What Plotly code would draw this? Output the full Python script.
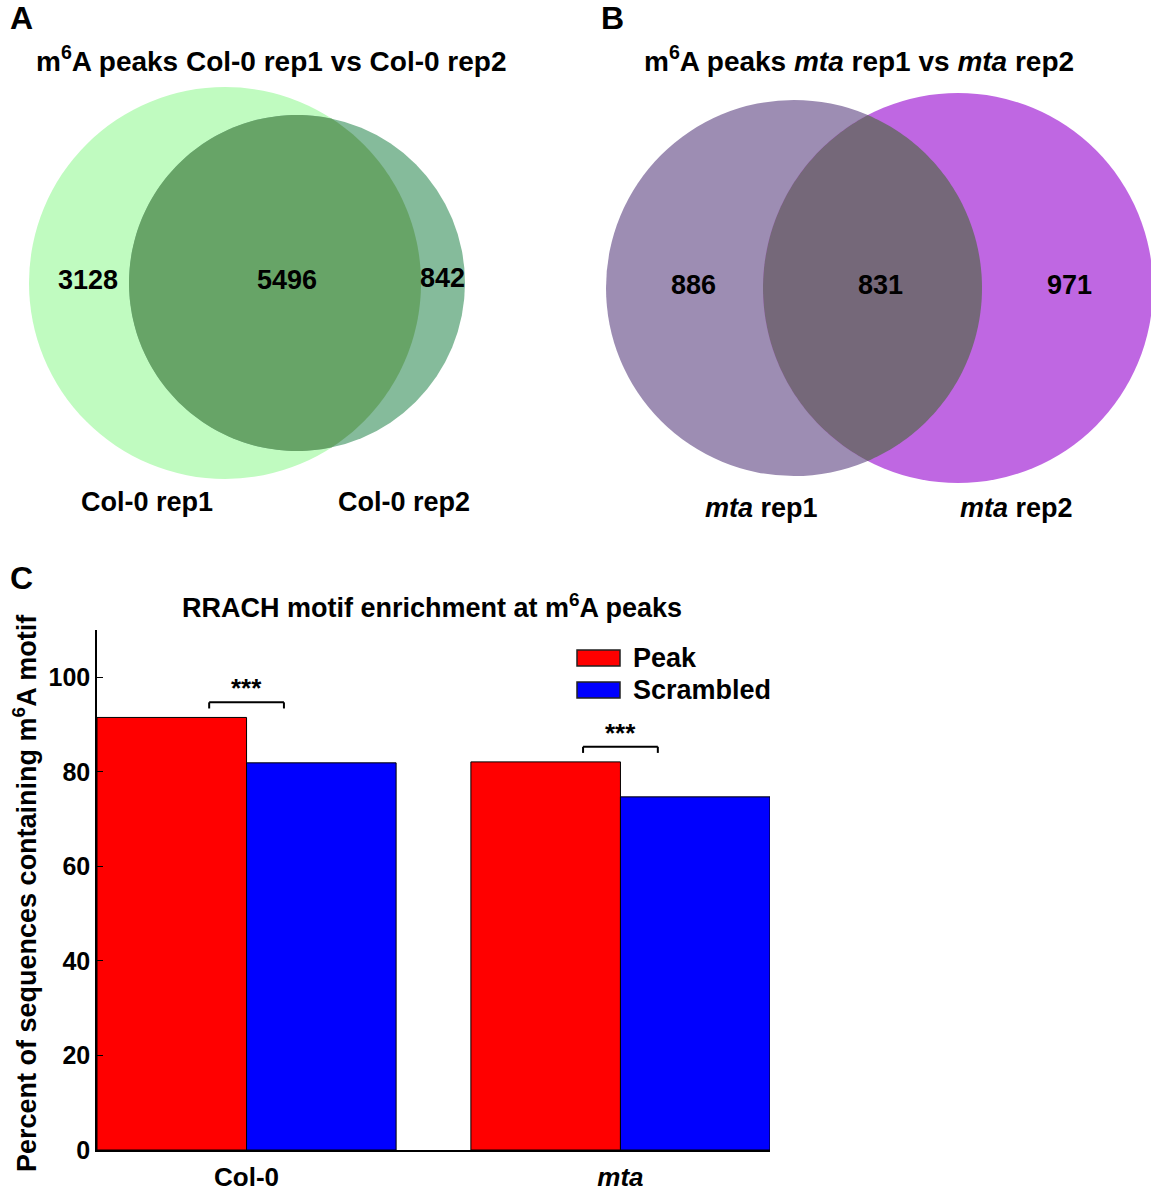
import numpy as np
import plotly.graph_objects as go

# ---------------- data ----------------
venn_a_counts = [3128, 5496, 842]          # rep1 only, shared, rep2 only
venn_a_labels = ["Col-0 rep1", "Col-0 rep2"]
venn_a_title = "m<sup>6</sup>A peaks Col-0 rep1 vs Col-0 rep2"

venn_b_counts = [886, 831, 971]
venn_b_labels = ["<i>mta</i> rep1", "<i>mta</i> rep2"]
venn_b_title = "m<sup>6</sup>A peaks <i>mta</i> rep1 vs <i>mta</i> rep2"

categories = ["Col-0", "<i>mta</i>"]
peak_values = [91.5, 82.1]
scrambled_values = [81.9, 74.7]
series_names = ["Peak", "Scrambled"]
sig_labels = ["***", "***"]
y_ticks = [0, 20, 40, 60, 80, 100]
bar_title = "RRACH motif enrichment at m<sup>6</sup>A peaks"
y_title = "Percent of sequences containing m<sup>6</sup>A motif"

# ---------------- layout helpers ----------------
W, H = 1151, 1190          # design canvas (pixel coordinates used below)
FIG_H = 1204               # rendered figure height (compensates page scaling)
FONT = "Liberation Sans, Arial, Helvetica, sans-serif"


def X(px):
    return px / W


def Y(py):
    return 1 - py / H


def circle_shape(cx, cy, r, color):
    return dict(type="circle", xref="paper", yref="paper",
                x0=X(cx - r), x1=X(cx + r), y0=Y(cy + r), y1=Y(cy - r),
                fillcolor=color, line=dict(width=0), layer="below")


def lens_shape(c1x, c2x, cy, r1, r2, color, n=120):
    d = c2x - c1x
    a = (d * d + r1 * r1 - r2 * r2) / (2 * d)
    h = np.sqrt(r1 * r1 - a * a)
    p1 = np.arctan2(h, a)
    p2 = np.arctan2(h, d - a)
    t1 = np.linspace(-p1, p1, n)
    t2 = np.linspace(np.pi - p2, np.pi + p2, n)
    xs = np.concatenate([c1x + r1 * np.cos(t1), c2x + r2 * np.cos(t2)])
    ys = np.concatenate([cy + r1 * np.sin(t1), cy + r2 * np.sin(t2)])
    path = "M " + " L ".join(f"{X(x):.5f},{Y(y):.5f}" for x, y in zip(xs, ys)) + " Z"
    return dict(type="path", xref="paper", yref="paper", path=path,
                fillcolor=color, line=dict(width=0), layer="below")


def txt(px, py, text, size=27, xanchor="center", angle=0, weight="bold"):
    return dict(x=X(px), y=Y(py), xref="paper", yref="paper", text=text,
                showarrow=False, xanchor=xanchor, yanchor="middle",
                textangle=angle,
                font=dict(family=FONT, size=size, color="black", weight=weight))


shapes = []
annotations = []

# ---- Venn A ----
A1 = dict(cx=225, cy=283, r=196)
A2 = dict(cx=297, cy=283, r=168)
shapes.append(circle_shape(A1["cx"], A1["cy"], A1["r"], "#C0FBC0"))
shapes.append(circle_shape(A2["cx"], A2["cy"], A2["r"], "#85BB9B"))
shapes.append(lens_shape(A1["cx"], A2["cx"], 283, A1["r"], A2["r"], "#67A467"))
for (px, py), v in zip([(88, 280), (287, 280), (442, 278)], venn_a_counts):
    annotations.append(txt(px, py, str(v), size=27))
annotations.append(txt(147, 502, venn_a_labels[0]))
annotations.append(txt(404, 502, venn_a_labels[1]))
annotations.append(txt(271, 59, venn_a_title, size=28))
annotations.append(txt(21, 18, "A", size=32))

# ---- Venn B ----
B1 = dict(cx=794, cy=288, r=188)
B2 = dict(cx=958, cy=288, r=195)
shapes.append(circle_shape(B1["cx"], B1["cy"], B1["r"], "#9D8DB3"))
shapes.append(circle_shape(B2["cx"], B2["cy"], B2["r"], "#BF67E2"))
shapes.append(lens_shape(B1["cx"], B2["cx"], 288, B1["r"], B2["r"], "#756879"))
for (px, py), v in zip([(693, 285), (880, 285), (1069, 285)], venn_b_counts):
    annotations.append(txt(px, py, str(v), size=27))
annotations.append(txt(761, 508, venn_b_labels[0]))
annotations.append(txt(1016, 508, venn_b_labels[1]))
annotations.append(txt(859, 59, venn_b_title, size=28))
annotations.append(txt(612, 18, "B", size=32))

# ---- Bar chart C ----
colors = ["#FF0000", "#0000FF"]
fig = go.Figure()
for name, vals, col in zip(series_names, [peak_values, scrambled_values], colors):
    fig.add_trace(go.Bar(x=categories, y=vals, name=name, marker_color=col,
                         marker_line=dict(color="black", width=1),
                         showlegend=False, hoverinfo="skip"))

# significance brackets
for i, (p, lab) in enumerate(zip(peak_values, sig_labels)):
    top = p + 3.2
    leg = p + 1.9
    for (x0, y0, x1, y1) in [(i - 0.1, leg, i - 0.1, top), (i - 0.1, top, i + 0.1, top),
                              (i + 0.1, top, i + 0.1, leg)]:
        shapes.append(dict(type="line", xref="x", yref="y", x0=x0, y0=y0, x1=x1, y1=y1,
                           line=dict(color="black", width=2)))
    annotations.append(dict(x=i, y=top, xref="x", yref="y", text=lab, showarrow=False,
                            yanchor="bottom", yshift=-3,
                            font=dict(family=FONT, size=26, color="black", weight="bold")))

# manual legend
for k, (name, col) in enumerate(zip(series_names, colors)):
    yc = 658 + 32 * k
    shapes.append(dict(type="rect", xref="paper", yref="paper",
                       x0=X(577), x1=X(620), y0=Y(yc + 8), y1=Y(yc - 8),
                       fillcolor=col, line=dict(color="#222222", width=1.5)))
    annotations.append(txt(631, yc, name, size=27, xanchor="left"))

annotations.append(txt(432, 606, bar_title, size=27))
annotations.append(txt(25, 893, y_title, size=27, angle=-90))
annotations.append(txt(21, 578, "C", size=32))

fig.update_layout(
    width=W, height=FIG_H, margin=dict(l=0, r=0, t=0, b=0), autosize=False,
    paper_bgcolor="white", plot_bgcolor="white",
    barmode="group", bargap=0.2, bargroupgap=0,
    shapes=shapes, annotations=annotations,
    font=dict(family=FONT, color="black"),
    xaxis=dict(domain=[X(97), X(770)], range=[-0.4, 1.4], showline=True,
               linecolor="black", linewidth=1.5, ticks="", showgrid=False,
               zeroline=False, ticklabelstandoff=3,
               tickfont=dict(family=FONT, size=26, color="black", weight="bold")),
    yaxis=dict(domain=[Y(1150), Y(630)], range=[0, 110], showline=True,
               linecolor="black", linewidth=1.5, ticks="inside", ticklen=6,
               tickcolor="black", tickvals=y_ticks, showgrid=False, zeroline=False,
               tickfont=dict(family=FONT, size=25, color="black", weight="bold")),
)

fig.write_html(
    "out.html",
    config={"responsive": False, "displayModeBar": False},
    post_script="document.body.style.margin='0';document.body.style.padding='0';"
                "document.body.style.overflow='hidden';",
)
